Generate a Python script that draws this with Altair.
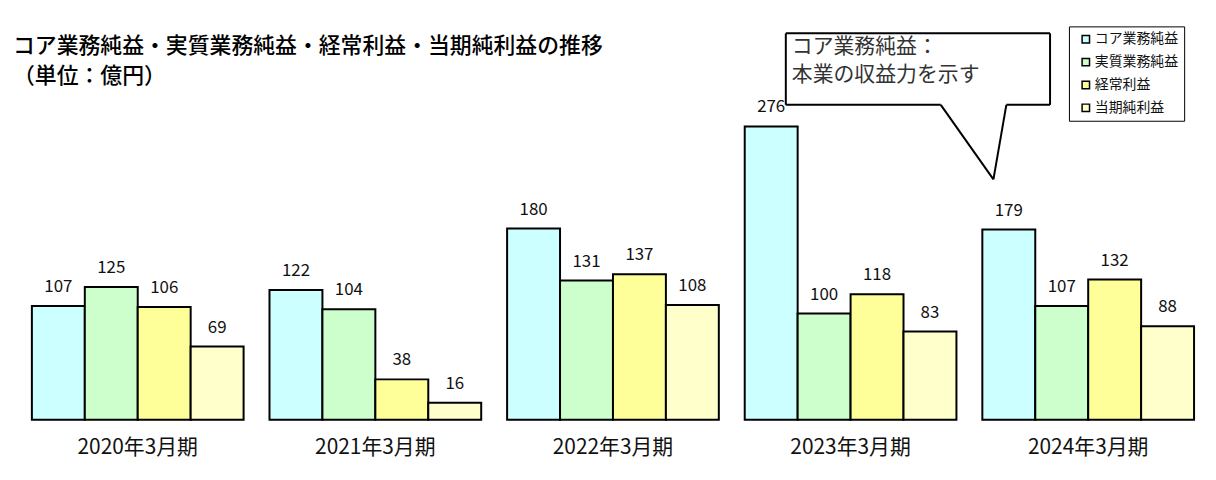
import altair as alt
import pandas as pd

periods = ["2020年3月期", "2021年3月期", "2022年3月期", "2023年3月期", "2024年3月期"]
series = ["コア業務純益", "実質業務純益", "経常利益", "当期純利益"]
core = [107, 122, 180, 276, 179]
real = [125, 104, 131, 100, 107]
ordinary = [106, 38, 137, 118, 132]
net = [69, 16, 108, 83, 88]
colors = ["#CCFFFF", "#CCFFCC", "#FFFF99", "#FFFFCC"]

title_lines = ["コア業務純益・実質業務純益・経常利益・当期純利益の推移", "（単位：億円）"]
callout_lines = ["コア業務純益：", "本業の収益力を示す"]

FONT = "Noto Sans CJK JP"

rows = []
for i, p in enumerate(periods):
    for s, vals in zip(series, [core, real, ordinary, net]):
        rows.append({"period": p, "series": s, "value": vals[i]})
df = pd.DataFrame(rows)
one = pd.DataFrame({"k": [0]})

x = alt.X("period:N", sort=periods, title=None,
          scale=alt.Scale(paddingInner=0.109, paddingOuter=0.0545, round=False),
          axis=alt.Axis(domain=False, ticks=False, labelFontSize=21, labelFont=FONT,
                        labelColor="#111", labelAngle=0, labelBaseline="middle",
                        labelPadding=28))
xo = alt.XOffset("series:N", sort=series,
                 scale=alt.Scale(paddingInner=0, paddingOuter=0, round=False))
y = alt.Y("value:Q", scale=alt.Scale(domain=[0, 300]), axis=None)

bars = alt.Chart(df).mark_bar(stroke="black", strokeWidth=2).encode(
    x=x, xOffset=xo, y=y,
    color=alt.Color("series:N", sort=series,
                    scale=alt.Scale(domain=series, range=colors),
                    legend=alt.Legend(title=None, orient="none", legendX=1057, legendY=-75,
                                      symbolType="square", symbolSize=56,
                                      symbolStrokeColor="black", symbolStrokeWidth=1.5,
                                      symbolOffset=4, labelOffset=2,
                                      labelFontSize=14, labelFont=FONT, labelColor="#111",
                                      strokeColor="black", padding=6, rowPadding=9,
                                      fillColor="white")),
)

labels = alt.Chart(df).mark_text(baseline="middle", dy=-19, fontSize=17, font=FONT,
                                 color="#111").encode(
    x=x, xOffset=xo, y=y, text="value:Q")


def txt(s, px, py, size, color="#000", weight="normal"):
    return alt.Chart(one).mark_text(align="left", baseline="middle", fontSize=size,
                                    font=FONT, color=color, fontWeight=weight).encode(
        x=alt.value(px), y=alt.value(py), text=alt.value(s))


def seg(x1, y1, x2, y2):
    return alt.Chart(one).mark_rule(color="black", strokeWidth=2).encode(
        x=alt.value(x1), x2=alt.value(x2), y=alt.value(y1), y2=alt.value(y2))


box_fill = alt.Chart(one).mark_rect(fill="white").encode(
    x=alt.value(772), x2=alt.value(1038), y=alt.value(-68), y2=alt.value(4))

callout = [
    box_fill,
    seg(772, -68, 1038, -68),
    seg(772, -68, 772, 4),
    seg(1038, -68, 1038, 4),
    seg(772, 4, 928, 4),
    seg(994, 4, 1038, 4),
    seg(928, 4, 981, 79),
    seg(981, 79, 994, 4),
    txt(callout_lines[0], 778, -54, 21, "#333"),
    txt(callout_lines[1], 778, -26, 21, "#333"),
]

titles = [
    txt(title_lines[0], -6, -55, 22, "#000", 500),
    txt(title_lines[1], -6, -25, 22, "#000", 500),
]

chart = alt.layer(bars, labels, *callout, *titles).properties(
    width=1196, height=321,
    autosize=alt.AutoSizeParams(type="none"),
    padding={"left": 11, "top": 92, "right": 1, "bottom": 40},
).configure_view(stroke=None)

chart.save("out.html", embed_options={"renderer": "svg", "actions": False})
